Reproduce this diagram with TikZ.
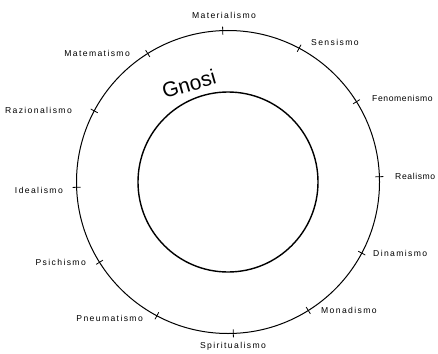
\documentclass[tikz,border=0pt]{standalone}
\usepackage{fontspec}
\setmainfont{Liberation Sans}
\usepackage{tikz}
\usetikzlibrary{positioning,calc}

\begin{document}
\begin{tikzpicture}[x=1pt,y=-1pt,
  every node/.style={inner sep=1pt,font=\fontsize{8.6}{10}\selectfont\addfontfeature{LetterSpace=16}},
  tight/.style={font=\fontsize{8.6}{10}\selectfont\addfontfeature{LetterSpace=7}},
  ring/.style={draw=black,line width=1pt},
  tick/.style={draw=black,line width=0.8pt}]
  \useasboundingbox (0,0) rectangle (438,353);
  \coordinate (c) at (228,182);
  \draw[ring] (c) circle[radius=151.5];
  \draw[ring,line width=1.4pt] (c) circle[radius=90];
  \foreach \a in {92,62,...,-178,152,122}
    \draw[tick] ($(c)+(-\a:147.5)$) -- ($(c)+(-\a:155.5)$);
  \node (mat) at (224,15) {Materialismo};
  \node[anchor=west] (sen) at (310,42) {Sensismo};
  \node[anchor=west,tight] (fen) at (371,98) {Fenomenismo};
  \node[anchor=west,tight] (rea) at (394,176) {Realismo};
  \node[anchor=west] (din) at (372,253) {Dinamismo};
  \node[anchor=west] (mon) at (320,310) {Monadismo};
  \node (spi) at (233,346) {Spiritualismo};
  \node[anchor=east] (pne) at (144,318) {Pneumatismo};
  \node[anchor=east] (psi) at (87,262) {Psichismo};
  \node[anchor=east] (ide) at (64,190) {Idealismo};
  \node[anchor=east] (raz) at (73,110) {Razionalismo};
  \node[anchor=east] (mtm) at (131,53) {Matematismo};
  \node[rotate=16,font=\fontsize{21}{24}\selectfont] (gno) at (189,84) {Gnosi};
\end{tikzpicture}
\end{document}
